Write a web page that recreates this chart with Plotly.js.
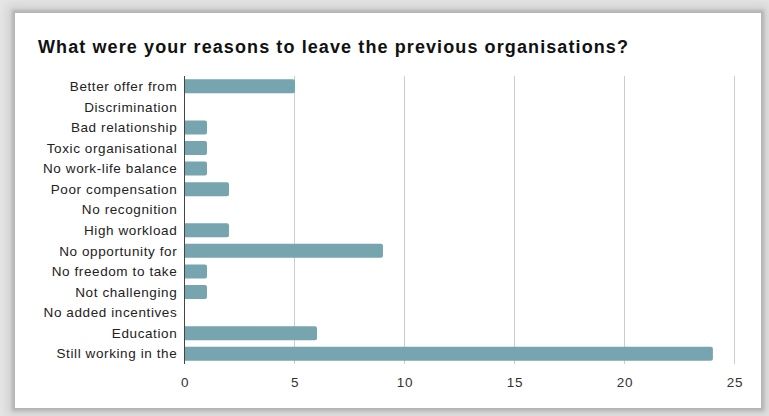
<!DOCTYPE html>
<html><head><meta charset="utf-8">
<script src="https://cdn.plot.ly/plotly-3.0.1.min.js"></script>
<style>
html,body{margin:0;padding:0;width:769px;height:416px;overflow:hidden;background:#e6e6e6;}
#frame{position:absolute;left:15px;top:13px;width:746px;height:395px;background:#fff;box-shadow:0 0 3px 3px #b4b4b4, 0 0 10px 8px #d0d0d0;}
#chart{width:746px;height:395px;}
#chart .ytick text, #chart .xtick text{letter-spacing:0.6px;}
#chart .gtitle{letter-spacing:1.1px;}
</style></head>
<body><div id="frame"><div id="chart"></div></div>
<script>
const categories = ["Better offer from","Discrimination","Bad relationship","Toxic organisational","No work-life balance","Poor compensation","No recognition","High workload","No opportunity for","No freedom to take","Not challenging","No added incentives","Education","Still working in the"];
const counts = [5,0,1,1,1,2,0,2,9,1,1,0,6,24];
const xTicks = [0,5,10,15,20,25];

const trace = {
  type:'bar', orientation:'h', y:categories, x:counts,
  marker:{color:'#76a5af', cornerradius:2},
  hoverinfo:'x+y'
};
const layout = {
  width:746, height:395,
  margin:{l:170,r:25,t:63,b:44},
  paper_bgcolor:'#fff', plot_bgcolor:'#fff',
  font:{family:'"Liberation Sans", Arial, sans-serif', size:13.5, color:'#222'},
  title:{text:'What were your reasons to leave the previous organisations?', xref:'container', x:23/746, xanchor:'left', yref:'container', y:1-34/395, yanchor:'middle', font:{size:18, color:'#111', family:'"Liberation Sans", Arial, sans-serif', weight:'bold'}},
  bargap:0.32,
  showlegend:false,
  xaxis:{range:[0,25.05], tickvals:xTicks, ticktext:xTicks.map(String), showgrid:true, gridcolor:'#cccccc', gridwidth:1, zeroline:false, showline:false, ticks:'outside', ticklen:6, tickcolor:'rgba(0,0,0,0)', tickfont:{size:13.5,color:'#333'}, fixedrange:true},
  yaxis:{type:'category', categoryorder:'array', categoryarray:categories, autorange:'reversed', showline:true, linecolor:'#444', linewidth:1, showgrid:false, ticks:'outside', ticklen:4, tickcolor:'rgba(0,0,0,0)', tickfont:{size:13.5,color:'#222'}, fixedrange:true},
  bargroupgap:0
};
Plotly.newPlot('chart',[trace],layout,{displayModeBar:false, staticPlot:true});
</script></body></html>
